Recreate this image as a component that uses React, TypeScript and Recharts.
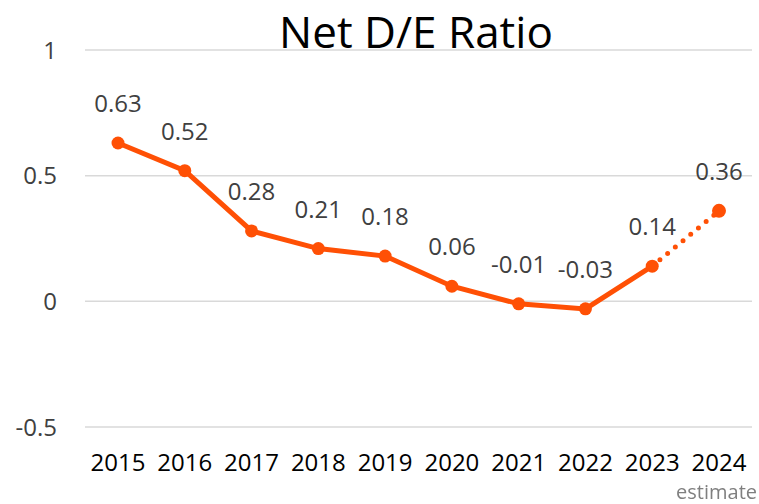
import { LineChart, Line, XAxis, YAxis, CartesianGrid, LabelList } from "recharts";

const years = ["2015", "2016", "2017", "2018", "2019", "2020", "2021", "2022", "2023", "2024"];
const actual = [0.63, 0.52, 0.28, 0.21, 0.18, 0.06, -0.01, -0.03, 0.14, null];
const estimate = [null, null, null, null, null, null, null, null, 0.14, 0.36];
const yTicks = [-0.5, 0, 0.5, 1];

const data = years.map((year, i) => ({
  year,
  actual: actual[i],
  estimate: estimate[i],
  est2024: i === years.length - 1 ? estimate[i] : null,
}));

const ORANGE = "#ff5005";
const FONT = "'Open Sans', 'Noto Sans', sans-serif";

function renderLabel(props: any) {
  const { x, y, value } = props;
  if (value === null || value === undefined) return null;
  return (
    <text
      x={x}
      y={y - 31}
      textAnchor="middle"
      fill="#404040"
      fontSize={24}
      fontFamily={FONT}
    >
      {value.toFixed(2)}
    </text>
  );
}

export default function App() {
  return (
    <div style={{ position: "fixed", left: 0, top: 0, width: 759, height: 504, background: "#fff" }}>
      <div
        style={{
          position: "absolute",
          left: 0,
          width: 759,
          boxSizing: "border-box",
          paddingLeft: 73,
          top: 1,
          textAlign: "center",
          fontFamily: FONT,
          fontSize: 44,
          color: "#000",
          lineHeight: "60px",
        }}
      >
        Net D/E Ratio
      </div>
      <LineChart
        width={759}
        height={504}
        data={data}
        margin={{ top: 50, right: 7, left: 0, bottom: 27 }}
      >
        <CartesianGrid vertical={false} stroke="#d9d9d9" strokeWidth={1.5} />
        <XAxis
          dataKey="year"
          axisLine={false}
          tickLine={false}
          tickSize={0}
          tickMargin={27}
          height={50}
          interval={0}
          padding={{ left: 33, right: 33 }}
          tick={{ fill: "#000", fontSize: 24, fontFamily: FONT }}
        />
        <YAxis
          domain={[-0.5, 1]}
          ticks={yTicks}
          axisLine={false}
          tickLine={false}
          tickSize={0}
          tickMargin={28}
          width={85}
          tick={{ fill: "#404040", fontSize: 24, fontFamily: FONT }}
        />
        <Line
          dataKey="estimate"
          stroke={ORANGE}
          strokeWidth={5}
          strokeDasharray="0 10"
          strokeLinecap="round"
          dot={false}
          isAnimationActive={false}
        />
        <Line
          dataKey="actual"
          stroke={ORANGE}
          strokeWidth={5}
          dot={{ r: 6.5, fill: ORANGE, stroke: "none" }}
          isAnimationActive={false}
        >
          <LabelList dataKey="actual" content={renderLabel} />
        </Line>
        <Line
          dataKey="est2024"
          stroke="none"
          dot={{ r: 7, fill: ORANGE, stroke: "none" }}
          isAnimationActive={false}
        >
          <LabelList dataKey="est2024" content={renderLabel} />
        </Line>
      </LineChart>
      <div
        style={{
          position: "absolute",
          right: 2,
          top: 479,
          fontFamily: FONT,
          fontSize: 20,
          color: "#7f7f7f",
          lineHeight: "26px",
        }}
      >
        estimate
      </div>
    </div>
  );
}
